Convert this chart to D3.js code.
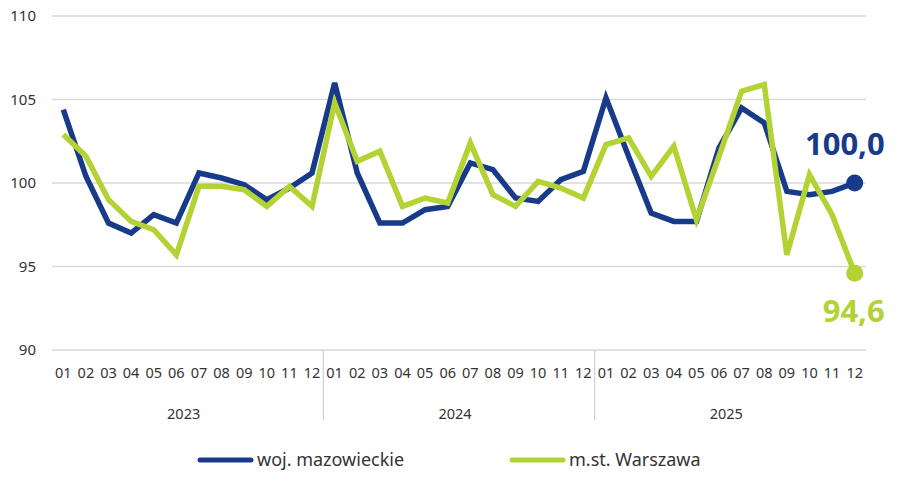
<!DOCTYPE html>
<html>
<head>
<meta charset="utf-8">
<script src="https://cdn.jsdelivr.net/npm/d3@7"></script>
<style>
  body { margin: 0; background: #fff; }
  svg { font-family: "Noto Sans", "Open Sans", sans-serif; }
</style>
</head>
<body>
<svg id="chart" width="900" height="498"></svg>
<script>
// data
var years = ["2023", "2024", "2025"];
var months = ["01","02","03","04","05","06","07","08","09","10","11","12"];
var yTicks = [90, 95, 100, 105, 110];
var seriesNames = ["woj. mazowieckie", "m.st. Warszawa"];

var mazowieckie = [
  104.4, 100.4, 97.6, 97.0, 98.1, 97.6, 100.6, 100.3, 99.9, 99.0, 99.7, 100.6,
  106.0, 100.6, 97.6, 97.6, 98.4, 98.6, 101.2, 100.8, 99.1, 98.9, 100.2, 100.7,
  105.1, 101.6, 98.2, 97.7, 97.7, 102.1, 104.5, 103.6, 99.5, 99.3, 99.5, 100.0
];
var warszawa = [
  102.9, 101.6, 99.0, 97.7, 97.2, 95.7, 99.8, 99.8, 99.6, 98.6, 99.8, 98.6,
  104.8, 101.3, 101.9, 98.6, 99.1, 98.8, 102.4, 99.3, 98.6, 100.1, 99.7, 99.1,
  102.3, 102.7, 100.4, 102.2, 97.8, 101.6, 105.5, 105.9, 95.7, 100.5, 98.1, 94.6
];

var colors = ["#183a8a", "#b3d233"];

var svg = d3.select("#chart");
var margin = {left: 52, right: 34, top: 16, bottom: 148};
var width = 900 - margin.left - margin.right;
var height = 498 - margin.top - margin.bottom;

var keys = [];
years.forEach(function(y){ months.forEach(function(m){ keys.push(y + "-" + m); }); });

var x = d3.scaleBand().domain(keys).range([margin.left, margin.left + width]);
var y = d3.scaleLinear().domain([90, 110]).range([margin.top + height, margin.top]);

// gridlines
svg.append("g")
  .selectAll("line")
  .data(yTicks)
  .join("line")
  .attr("x1", margin.left)
  .attr("x2", margin.left + width)
  .attr("y1", d => y(d))
  .attr("y2", d => y(d))
  .attr("stroke", "#d9d9d9")
  .attr("stroke-width", 1.5);

// y labels
svg.append("g")
  .selectAll("text")
  .data(yTicks)
  .join("text")
  .attr("x", 36)
  .attr("y", d => y(d) + 5)
  .attr("text-anchor", "end")
  .attr("font-size", 15)
  .attr("fill", "#333")
  .text(d => d);

// month labels
svg.append("g")
  .selectAll("text")
  .data(keys)
  .join("text")
  .attr("x", d => x(d) + x.bandwidth() / 2)
  .attr("y", margin.top + height + 28)
  .attr("text-anchor", "middle")
  .attr("font-size", 14.5)
  .attr("fill", "#333")
  .text(d => d.split("-")[1]);

// year labels and separators
var step = x.step();
years.forEach(function(yr, i){
  var first = x(yr + "-01");
  var last = x(yr + "-12") + step;
  svg.append("text")
    .attr("x", (first + last) / 2 - 4)
    .attr("y", margin.top + height + 69)
    .attr("text-anchor", "middle")
    .attr("font-size", 14.5)
    .attr("fill", "#333")
    .text(yr);
  if (i > 0) {
    svg.append("line")
      .attr("x1", first).attr("x2", first)
      .attr("y1", y(90)).attr("y2", y(90) + 70)
      .attr("stroke", "#cfcfcf")
      .attr("stroke-width", 1.2);
  }
});

// lines
var line = d3.line()
  .x((d, i) => x(keys[i]) + x.bandwidth() / 2)
  .y(d => y(d));

var series = [mazowieckie, warszawa];
series.forEach(function(s, i){
  svg.append("path")
    .datum(s)
    .attr("d", line)
    .attr("fill", "none")
    .attr("stroke", colors[i])
    .attr("stroke-width", 5.5)
    .attr("stroke-linejoin", "miter");

  var lastIdx = s.length - 1;
  var cx = x(keys[lastIdx]) + x.bandwidth() / 2;
  svg.append("circle")
    .attr("cx", cx)
    .attr("cy", y(s[lastIdx]))
    .attr("r", 8.5)
    .attr("fill", colors[i]);

  svg.append("text")
    .attr("x", cx + 30)
    .attr("y", i == 0 ? y(s[lastIdx]) - 28 : y(s[lastIdx]) + 49)
    .attr("text-anchor", "end")
    .attr("font-size", 31)
    .attr("font-weight", "bold")
    .attr("fill", colors[i])
    .text(d3.format(".1f")(s[lastIdx]).replace(".", ","));
});

// legend
var legendX = [200, 512];
seriesNames.forEach(function(name, i){
  svg.append("line")
    .attr("x1", legendX[i]).attr("x2", legendX[i] + 51)
    .attr("y1", 460).attr("y2", 460)
    .attr("stroke", colors[i])
    .attr("stroke-width", 5)
    .attr("stroke-linecap", "round");
  svg.append("text")
    .attr("x", legendX[i] + 57)
    .attr("y", 466)
    .attr("font-size", 18)
    .attr("fill", "#333")
    .text(name);
});
</script>
</body>
</html>
